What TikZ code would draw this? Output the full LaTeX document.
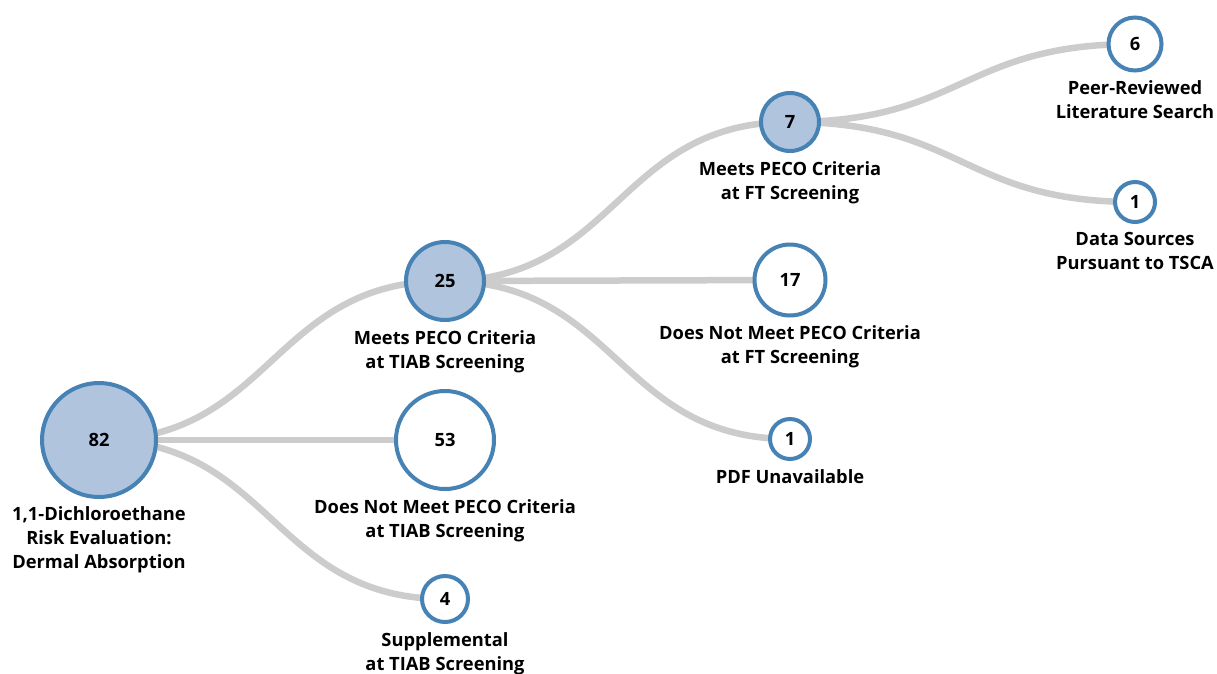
\documentclass[tikz,border=0pt]{standalone}
\usepackage{fontspec}
\setmainfont{Open Sans}
\usetikzlibrary{calc}
\definecolor{stroke}{HTML}{4682B4}
\definecolor{lsb}{HTML}{B0C4DE}
\definecolor{linkc}{HTML}{CCCCCC}
\tikzset{
  nd/.style={circle, draw=stroke, line width=4pt, inner sep=0pt, fill=white,
    font=\fontsize{18.3}{22}\selectfont\bfseries},
  ndf/.style={nd, fill=lsb},
  lbl/.style={anchor=north, inner sep=0pt, align=center,
    font=\fontsize{18.3}{24}\selectfont\bfseries},
  lnk/.style={draw=linkc, line width=6.5pt}
}
\begin{document}
\begin{tikzpicture}[x=1pt,y=-1pt]
\useasboundingbox[fill=white] (0,0) rectangle (1217,673);
% coordinates for nodes
\coordinate (pA) at (99,440);
\coordinate (pB) at (445,281);
\coordinate (pC) at (445,440);
\coordinate (pD) at (445,599);
\coordinate (pE) at (790,122);
\coordinate (pF) at (790,280);
\coordinate (pG) at (790,439);
\coordinate (pH) at (1135,44);
\coordinate (pI) at (1135,202);
% links
\foreach \s/\t in {pA/pB,pA/pC,pA/pD,pB/pE,pB/pF,pB/pG,pE/pH,pE/pI}{
  \draw[lnk] let \p1=(\s), \p2=(\t) in
    (\p1) .. controls ({(\x1+\x2)/2},\y1) and ({(\x1+\x2)/2},\y2) .. (\p2);
}
% nodes
\node[ndf, minimum size=114pt] (a) at (pA) {82};
\node[ndf, minimum size=78pt] (b) at (pB) {25};
\node[nd, minimum size=98pt] (c) at (pC) {53};
\node[nd, minimum size=46pt] (d) at (pD) {4};
\node[ndf, minimum size=58pt] (e) at (pE) {7};
\node[nd, minimum size=71pt] (f) at (pF) {17};
\node[nd, minimum size=40pt] (g) at (pG) {1};
\node[nd, minimum size=53pt] (h) at (pH) {6};
\node[nd, minimum size=40pt] (i) at (pI) {1};
% labels
\node[lbl] (la) at ($(pA)+(0,66)$) {1,1-Dichloroethane\\Risk Evaluation:\\Dermal Absorption};
\node[lbl] (lb) at ($(pB)+(0,49)$) {Meets PECO Criteria\\at TIAB Screening};
\node[lbl] (lc) at ($(pC)+(0,59)$) {Does Not Meet PECO Criteria\\at TIAB Screening};
\node[lbl] (ld) at ($(pD)+(0,33)$) {Supplemental\\at TIAB Screening};
\node[lbl] (le) at ($(pE)+(0,39)$) {Meets PECO Criteria\\at FT Screening};
\node[lbl] (lf) at ($(pF)+(0,45)$) {Does Not Meet PECO Criteria\\at FT Screening};
\node[lbl] (lg) at ($(pG)+(0,30)$) {PDF Unavailable};
\node[lbl] (lh) at ($(pH)+(0,36)$) {Peer-Reviewed\\Literature Search};
\node[lbl] (li) at ($(pI)+(0,30)$) {Data Sources\\Pursuant to TSCA};
\end{tikzpicture}
\end{document}
